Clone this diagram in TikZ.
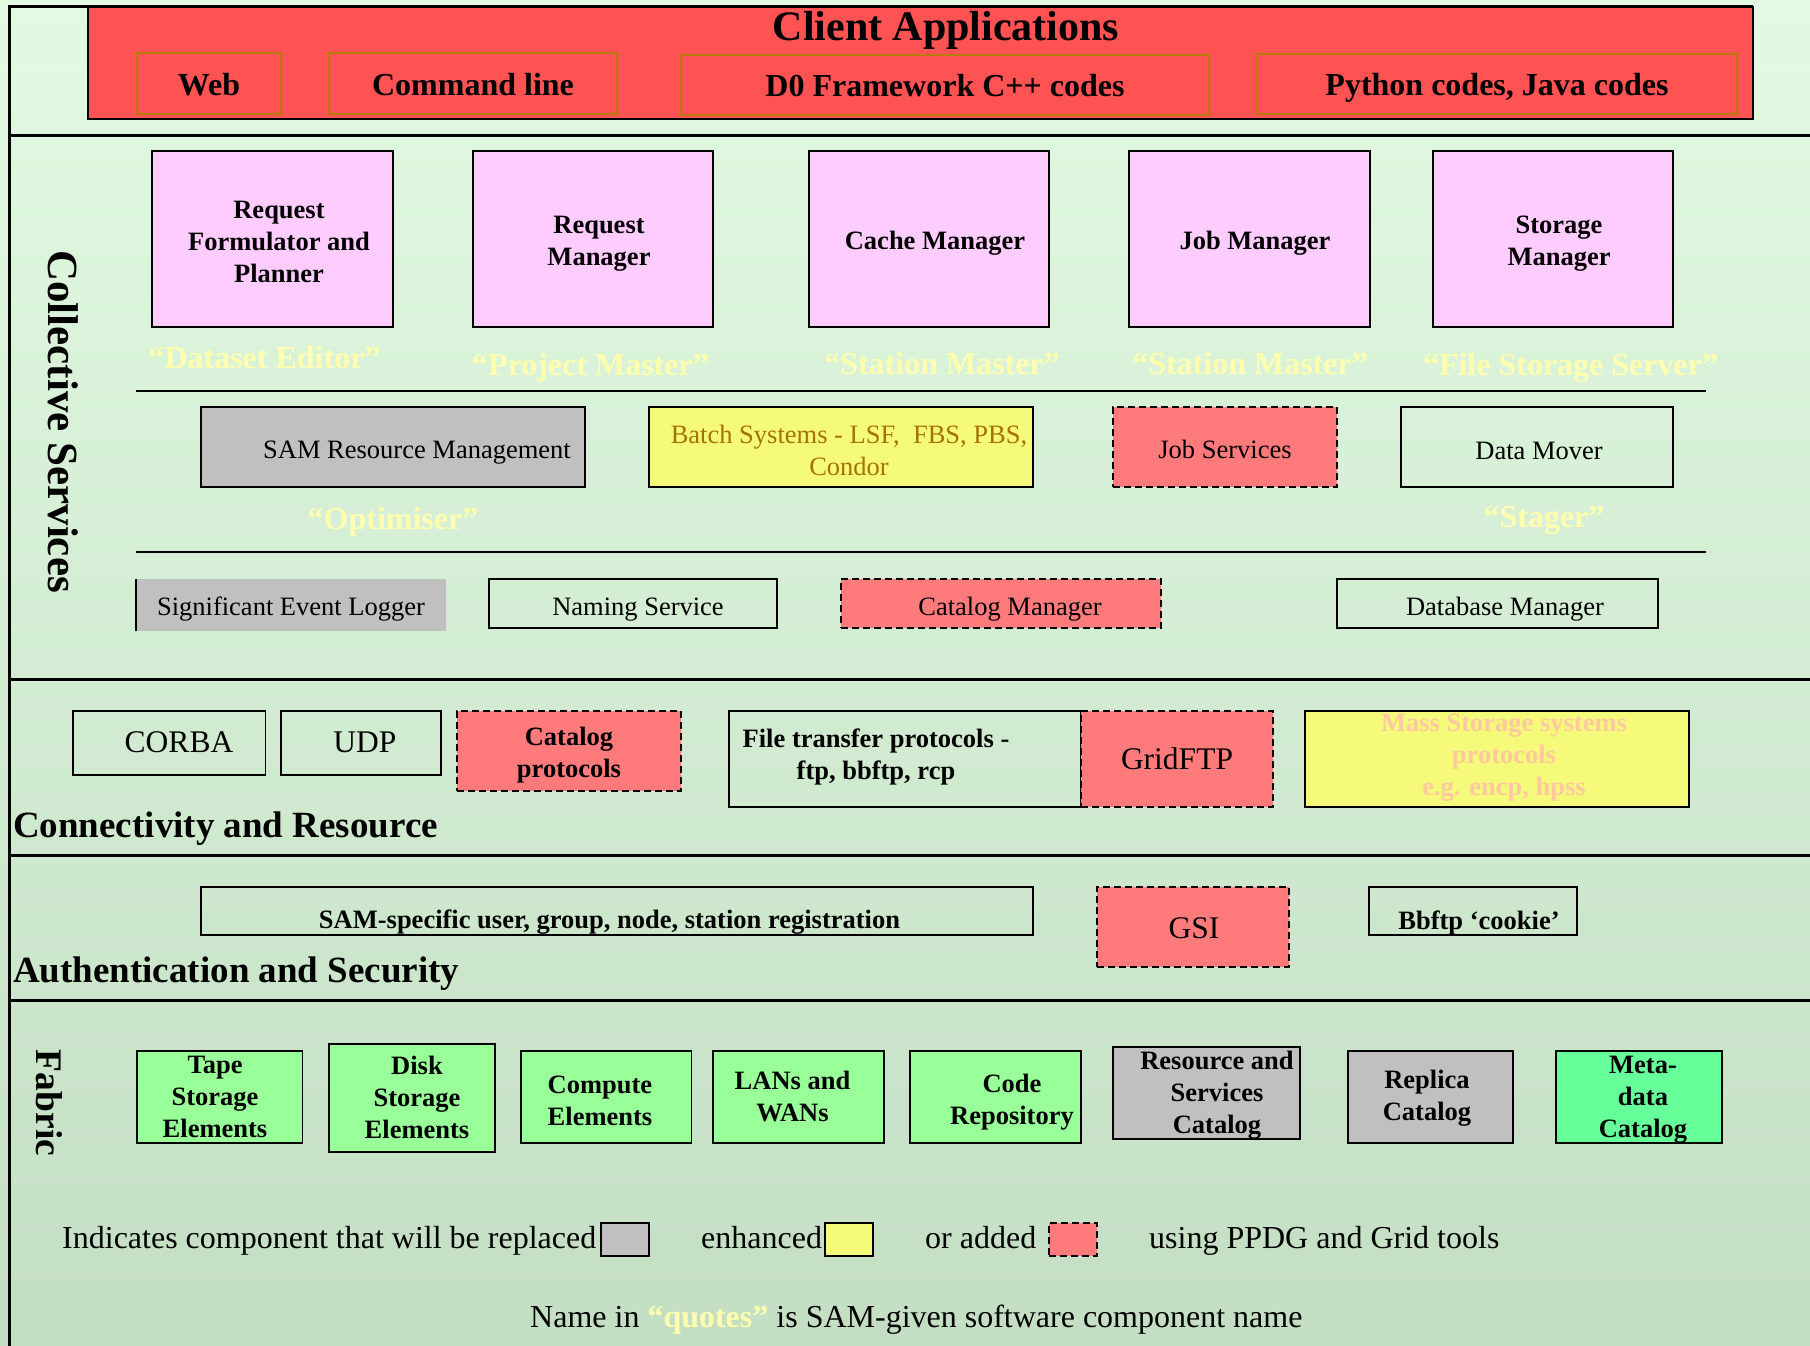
\documentclass[tikz,border=0pt]{standalone}
\usepackage{fontspec}
\setmainfont{Liberation Serif}
\usetikzlibrary{fit}

\definecolor{bgtop}{RGB}{225,250,225}
\definecolor{bgbot}{RGB}{196,222,196}
\definecolor{appred}{RGB}{255,82,82}
\definecolor{appedge}{RGB}{185,120,10}
\definecolor{mgrpink}{RGB}{255,204,255}
\definecolor{addpink}{RGB}{255,122,122}
\definecolor{replgray}{RGB}{192,192,192}
\definecolor{enhyellow}{RGB}{246,250,122}
\definecolor{fabgreen}{RGB}{153,255,153}
\definecolor{metagreen}{RGB}{102,255,153}
\definecolor{samname}{RGB}{255,255,175}
\definecolor{batchtext}{RGB}{165,115,0}
\definecolor{msstext}{RGB}{255,200,160}

\newcommand\fs[2]{\fontsize{#1}{#2}\selectfont}
% box from its two corners (pixel grid, y downwards)
\newcommand\bx[6][]{\node[fit={(#3,#4) (#5,#6)}, inner sep=0pt, #1] (#2) {};}
% text placed at a point
\newcommand\tx[5][]{\node[txt, #1] (#2) at (#3,#4) {#5};}

\tikzset{
  txt/.style={inner sep=0pt, align=center, font=\fs{26.5}{32}},
  bold/.style={font=\fs{26.5}{32}\bfseries},
  big/.style={font=\fs{31.5}{36}},
  bigbold/.style={font=\fs{32}{36}\bfseries},
  plainbox/.style={draw=black, line width=1.8pt},
  subbox/.style={draw=appedge, line width=1.8pt},
  mgrbox/.style={plainbox, fill=mgrpink},
  graybox/.style={plainbox, fill=replgray},
  yellowbox/.style={plainbox, fill=enhyellow},
  addbox/.style={draw=black, line width=2pt, dash pattern=on 7pt off 4pt, fill=addpink},
  greenbox/.style={plainbox, fill=fabgreen},
  samlabel/.style={txt, text=samname, font=\fs{32}{36}\bfseries},
  layer/.style={line width=3pt},
  rule/.style={line width=2pt},
  heading/.style={inner sep=0pt, anchor=base west, font=\fs{37}{42}\bfseries},
  legend/.style={inner sep=0pt, anchor=base west, font=\fs{32}{36}},
}

\begin{document}
\begin{tikzpicture}[x=1pt, y=-1pt]
\useasboundingbox (0,0) rectangle (1810,1346);
\shade[top color=bgtop, bottom color=bgbot] (0,0) rectangle (1810,1346);

% frame and layer separators
\draw[layer] (9,1346) -- (9,7) -- (1753,7);
\foreach \yy in {135,679,855,1000} \draw[layer] (9,\yy) -- (1810,\yy);
\draw[rule] (136,391) -- (1706,391);
\draw[rule] (136,552) -- (1706,552);

% ---------------- Client applications ----------------
\bx[draw=black, line width=2pt, fill=appred]{apps}{88}{7}{1753}{119}
\node[inner sep=0pt, font=\fs{42}{46}\bfseries] (apps-t) at (946,30.5) {Client Applications};
\bx[subbox]{web}{137}{53}{281}{114}
\bx[subbox]{cmd}{329}{53}{617}{114}
\bx[subbox]{dzero}{681}{55}{1209}{115}
\bx[subbox]{pyjava}{1256}{54}{1737}{114}
\tx[bigbold]{web-t}{209}{85}{Web}
\tx[bigbold]{cmd-t}{473}{85}{Command line}
\tx[bigbold]{dzero-t}{945}{86}{D0 Framework C++ codes}
\tx[bigbold]{pyjava-t}{1497}{87.5}{Python codes, Java codes}

% ---------------- Collective services ----------------
\node[inner sep=0pt, rotate=-90, font=\fs{43}{48}\bfseries] (coll) at (63.5,421.5) {Collective Services};

\bx[mgrbox]{rfp}{152}{151}{393}{327}
\bx[mgrbox]{reqm}{473}{151}{713}{327}
\bx[mgrbox]{cachem}{809}{151}{1049}{327}
\bx[mgrbox]{jobm}{1129}{151}{1370}{327}
\bx[mgrbox]{storm}{1433}{151}{1673}{327}
\tx[bold]{rfp-t}{279}{242}{Request\\Formulator and\\Planner}
\tx[bold]{reqm-t}{599}{244}{Request\\Manager}
\tx[bold]{cachem-t}{935}{243}{Cache Manager}
\tx[bold]{jobm-t}{1255}{243}{Job Manager}
\tx[bold]{storm-t}{1559}{244}{Storage\\Manager}

\node[samlabel] (n-dse) at (264.5,358) {“Dataset Editor”};
\node[samlabel] (n-pm) at (590.5,367.5) {“Project Master”};
\node[samlabel] (n-sm1) at (942,364) {“Station Master”};
\node[samlabel] (n-sm2) at (1250,364) {“Station Master”};
\node[samlabel] (n-fss) at (1570.5,367.5) {“File Storage Server”};

\bx[graybox]{samrm}{201}{407}{585}{487}
\bx[yellowbox]{batch}{649}{407}{1033}{487}
\bx[addbox]{jobsvc}{1113}{407}{1337}{487}
\bx[plainbox]{mover}{1401}{407}{1673}{487}
\tx{samrm-t}{417}{452.5}{SAM Resource Management}
\tx[text=batchtext]{batch-t}{849}{450}{Batch Systems - LSF,\ \ FBS, PBS,\\Condor}
\tx{jobsvc-t}{1225}{449}{Job Services}
\tx{mover-t}{1539}{450.5}{Data Mover}

\node[samlabel] (n-opt) at (393,521.5) {“Optimiser”};
\node[samlabel] (n-stg) at (1544,520.5) {“Stager”};

\bx[fill=replgray]{sel}{136}{579}{446}{631}
\draw[line width=1.5pt] (sel.north west) -- (sel.south west);
\bx[plainbox]{naming}{489}{579}{777}{628}
\bx[addbox]{catm}{841}{579}{1161}{628}
\bx[plainbox]{dbm}{1337}{579}{1658}{628}
\tx{sel-t}{291}{609.5}{Significant Event Logger}
\tx{naming-t}{638}{609.5}{Naming Service}
\tx{catm-t}{1010}{609.5}{Catalog Manager}
\tx{dbm-t}{1505}{609.5}{Database Manager}

% ---------------- Connectivity and resource ----------------
\bx[plainbox]{corba}{73}{711}{265.5}{775}
\bx[plainbox]{udp}{281}{711}{441}{775}
\bx[addbox]{catp}{457}{711}{681}{791}
\bx[plainbox]{ftp}{729}{711}{1081}{807}
\bx[addbox]{gridftp}{1081}{711}{1273}{807}
\bx[yellowbox]{mss}{1305}{711}{1689}{807}
\tx[big]{corba-t}{179}{742}{CORBA}
\tx[big]{udp-t}{365}{742}{UDP}
\tx[bold]{catp-t}{569}{755.5}{Catalog\\protocols}
\tx[bold]{ftp-t}{876}{756.5}{File transfer protocols -\\ftp, bbftp, rcp}
\tx[big]{gridftp-t}{1177}{759}{GridFTP}
\tx[bold, text=msstext]{mss-t}{1504}{757.5}{Mass Storage systems\\protocols\\e.g. encp, hpss}
\node[heading] (conn) at (13,837) {Connectivity and Resource};

% ---------------- Authentication and security ----------------
\bx[plainbox]{samreg}{201}{887}{1033}{935}
\bx[addbox]{gsi}{1097}{887}{1289}{967}
\bx[plainbox]{cookie}{1369}{887}{1577}{935}
\tx[bold]{samreg-t}{609.5}{922.5}{SAM-specific user, group, node, station registration}
\tx[big]{gsi-t}{1194}{928}{GSI}
\tx[bold]{cookie-t}{1479}{922.5}{Bbftp ‘cookie’}
\node[heading] (auth) at (13,982) {Authentication and Security};

% ---------------- Fabric ----------------
\node[inner sep=0pt, rotate=-90, font=\fs{37.5}{42}\bfseries] (fabric) at (49,1103) {Fabric};

\bx[greenbox]{tape}{137}{1051}{302.5}{1143}
\bx[greenbox]{disk}{329}{1044}{494.6}{1152}
\bx[greenbox]{compute}{521}{1051}{691.5}{1143}
\bx[greenbox]{lans}{713}{1051}{883.6}{1143}
\bx[greenbox]{code}{910}{1051}{1081}{1143}
\bx[graybox]{rsc}{1113}{1047}{1300}{1139}
\bx[graybox]{replica}{1348}{1051}{1513}{1143}
\bx[plainbox, fill=metagreen]{meta}{1556}{1051}{1722}{1143}
\tx[bold]{tape-t}{215}{1097}{Tape\\Storage\\Elements}
\tx[bold]{disk-t}{417}{1097}{Disk\\Storage\\Elements}
\tx[bold]{compute-t}{600}{1100.5}{Compute\\Elements}
\tx[bold]{lans-t}{792.5}{1096}{LANs and\\WANs}
\tx[bold]{code-t}{1012}{1102}{Code\\Repository}
\tx[bold]{rsc-t}{1217}{1095}{Resource and\\Services\\Catalog}
\tx[bold]{replica-t}{1427}{1098.5}{Replica\\Catalog}
\tx[bold]{meta-t}{1643}{1100}{Meta-\\data\\Catalog}

% ---------------- Legend ----------------
\node[legend] (leg-repl) at (62,1248) {Indicates component that will be replaced};
\bx[graybox]{sq-repl}{601}{1223}{649}{1256}
\node[legend] (leg-enh) at (701,1248) {enhanced};
\bx[yellowbox]{sq-enh}{825}{1223}{873}{1256}
\node[legend] (leg-add) at (925,1248) {or added};
\bx[addbox]{sq-add}{1049}{1223}{1097}{1256}
\node[legend] (leg-tools) at (1149,1248) {using PPDG and Grid tools};
\node[legend] (leg-names) at (530,1327) {Name in \textcolor{samname}{\bfseries “quotes”} is SAM-given software component name};
\end{tikzpicture}
\end{document}
